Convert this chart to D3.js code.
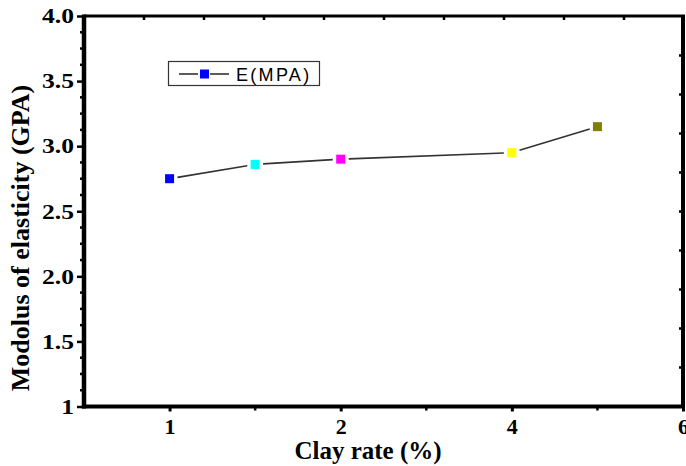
<!DOCTYPE html>
<html><head><meta charset="utf-8">
<script src="https://cdn.jsdelivr.net/npm/d3@7/dist/d3.min.js"></script>
<style>body{margin:0;background:#fff;} svg{display:block;}</style>
</head><body>
<svg id="c" width="686" height="466"></svg>
<script>
const clayRate = [1, 1.5, 2, 4, 5];
const modulus = [2.75, 2.86, 2.9, 2.95, 3.15];
const markerColors = ["#0000ff", "#00ffff", "#ff00ff", "#ffff00", "#808000"];
const xTickValues = [1, 2, 4, 6];
const xTickLabels = ["1", "2", "4", "6"];
const yTickValues = [1, 1.5, 2, 2.5, 3, 3.5, 4];
const yTickLabels = ["1", "1.5", "2.0", "2.5", "3.0", "3.5", "4.0"];
const seriesName = "E(MPA)";
const xTitle = "Clay rate (%)";
const yTitle = "Modolus of elasticity (GPA)";

const L = 84, R = 683, T = 16, B = 406.5;
const unit = (R - L) / 3.5;
const svg = d3.select("#c");
const x = d3.scaleLinear().domain([0.5, 1, 2, 4, 6])
  .range([L, L + unit * 0.5, L + unit * 1.5, L + unit * 2.5, L + unit * 3.5]);
const y = d3.scaleLinear().domain([1, 4]).range([B, T]);
const serif = "'Liberation Serif','Times New Roman',serif";

// secondary (frame) tick scales
const topS = d3.scaleLinear().domain([0, 10]).range([L, L + 600]);
const rightS = d3.scaleLinear().domain([0, 10]).range([B, B - 390]);

// left axis
const yAx = svg.append("g").attr("transform", `translate(${L},0)`)
  .call(d3.axisLeft(y).tickValues(yTickValues).tickSize(7).tickPadding(3)
    .tickFormat((d, i) => yTickLabels[i]));
yAx.select(".domain").remove();
yAx.selectAll("line").attr("stroke", "#000").attr("stroke-width", 2.5);
yAx.selectAll("text").attr("font-family", serif).attr("font-weight", "bold")
  .attr("font-size", 20).attr("fill", "#000").attr("dy", "0.34em")
  .attr("x", 0).attr("transform", "translate(-10,0) scale(1.28,1)");
const yMinor = d3.range(1.125, 4, 0.125).filter(v => Math.abs(v * 2 - Math.round(v * 2)) > 1e-6);
svg.append("g").selectAll("line").data(yMinor).join("line")
  .attr("x1", L - 4).attr("x2", L).attr("y1", d => y(d)).attr("y2", d => y(d))
  .attr("stroke", "#000").attr("stroke-width", 2.5);

// bottom axis
const xAx = svg.append("g").attr("transform", `translate(0,${B})`)
  .call(d3.axisBottom(x).tickValues(xTickValues).tickSize(5).tickPadding(7)
    .tickFormat((d, i) => xTickLabels[i]));
xAx.select(".domain").remove();
xAx.selectAll("line").attr("stroke", "#000").attr("stroke-width", 3);
xAx.selectAll("text").attr("font-family", serif).attr("font-weight", "bold")
  .attr("font-size", 22).attr("fill", "#000");
svg.append("g").selectAll("line").data([1.5, 3, 5]).join("line")
  .attr("x1", d => x(d)).attr("x2", d => x(d)).attr("y1", B).attr("y2", B + 4)
  .attr("stroke", "#000").attr("stroke-width", 2.5);

// top and right frame ticks
svg.append("g").selectAll("line").data(d3.range(1, 10)).join("line")
  .attr("x1", d => topS(d)).attr("x2", d => topS(d)).attr("y1", T).attr("y2", T + 4)
  .attr("stroke", "#000").attr("stroke-width", 2.5);
svg.append("g").selectAll("line").data(d3.range(1, 10)).join("line")
  .attr("x1", R).attr("x2", R - 4).attr("y1", d => rightS(d)).attr("y2", d => rightS(d))
  .attr("stroke", "#000").attr("stroke-width", 2.5);

// frame
svg.append("line").attr("x1", L).attr("x2", R + 2).attr("y1", T).attr("y2", T).attr("stroke", "#000").attr("stroke-width", 3);
svg.append("line").attr("x1", R).attr("x2", R).attr("y1", T).attr("y2", B).attr("stroke", "#000").attr("stroke-width", 4);
svg.append("line").attr("x1", L - 2).attr("x2", R + 2).attr("y1", B).attr("y2", B).attr("stroke", "#000").attr("stroke-width", 4);
svg.append("line").attr("x1", L).attr("x2", L).attr("y1", T - 1.5).attr("y2", B + 2).attr("stroke", "#000").attr("stroke-width", 4.5);

// data line segments with gaps around markers
const pts = clayRate.map((c, i) => [x(c), y(modulus[i])]);
const gap = 8;
const segs = [];
for (let i = 0; i < pts.length - 1; i++) {
  const [x1, y1] = pts[i], [x2, y2] = pts[i + 1];
  const len = Math.hypot(x2 - x1, y2 - y1);
  const ux = (x2 - x1) / len, uy = (y2 - y1) / len;
  segs.push([x1 + ux * gap, y1 + uy * gap, x2 - ux * gap, y2 - uy * gap]);
}
svg.append("g").selectAll("line").data(segs).join("line")
  .attr("x1", d => d[0]).attr("y1", d => d[1]).attr("x2", d => d[2]).attr("y2", d => d[3])
  .attr("stroke", "#333").attr("stroke-width", 1.6);
const ms = 9;
svg.append("g").selectAll("rect").data(pts).join("rect")
  .attr("x", d => d[0] - ms / 2).attr("y", d => d[1] - ms / 2)
  .attr("width", ms).attr("height", ms)
  .attr("fill", (d, i) => markerColors[i]);

// legend
const lg = svg.append("g");
lg.append("rect").attr("x", 168.5).attr("y", 61.5).attr("width", 151).attr("height", 24)
  .attr("fill", "#fff").attr("stroke", "#333").attr("stroke-width", 1.2);
lg.append("line").attr("x1", 179).attr("x2", 198).attr("y1", 74).attr("y2", 74).attr("stroke", "#333").attr("stroke-width", 1.6);
lg.append("line").attr("x1", 210).attr("x2", 229).attr("y1", 74).attr("y2", 74).attr("stroke", "#333").attr("stroke-width", 1.6);
lg.append("rect").attr("x", 200).attr("y", 69.5).attr("width", 9).attr("height", 9).attr("fill", markerColors[0]);
lg.append("text").attr("x", 236).attr("y", 81).text(seriesName)
  .attr("font-family", "'Liberation Sans',Arial,sans-serif").attr("font-size", 18)
  .attr("letter-spacing", "2.3px").attr("fill", "#000");

// titles
svg.append("text").attr("x", 368).attr("y", 459).attr("text-anchor", "middle")
  .attr("font-family", serif).attr("font-weight", "bold").attr("font-size", 25).text(xTitle);
svg.append("text").attr("transform", `translate(29,238) rotate(-90)`)
  .attr("text-anchor", "middle").attr("font-family", serif).attr("font-weight", "bold")
  .attr("font-size", 26).text(yTitle);
</script>
</body></html>
